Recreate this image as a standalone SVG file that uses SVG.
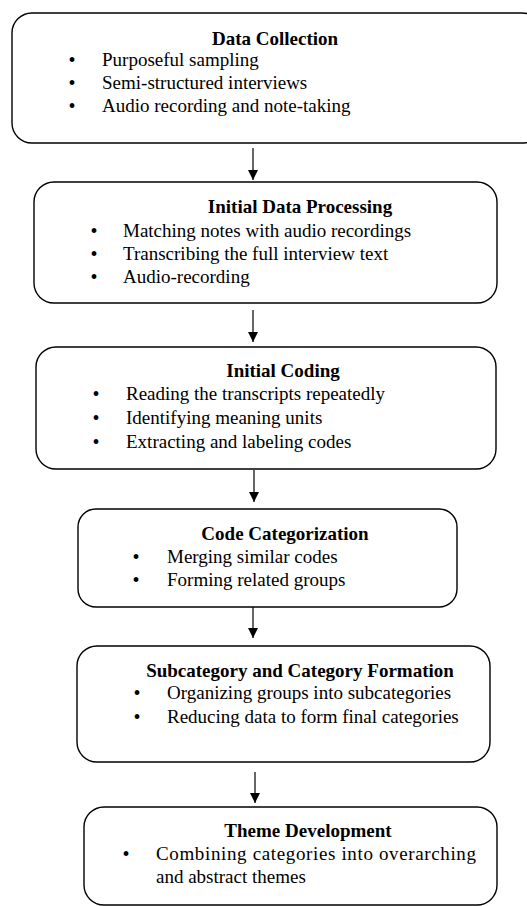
<svg xmlns="http://www.w3.org/2000/svg" width="527" height="906" viewBox="0 0 527 906">
<style>
.box{fill:#fff;stroke:#000;stroke-width:1.4}
.t{font-family:"Liberation Serif","Times New Roman",serif;font-size:19px;fill:#000}
.b{font-family:"Liberation Serif","Times New Roman",serif;font-size:20px;fill:#000;text-anchor:middle}
.h{font-weight:bold;text-anchor:middle}
.conn line{stroke:#000;stroke-width:1.2}
</style>
<defs>
<marker id="ah" viewBox="0 0 10 10" refX="10" refY="5" markerWidth="10" markerHeight="10" markerUnits="userSpaceOnUse" orient="auto">
<path d="M0,0L10,5L0,10Z" fill="#000"/>
</marker>
</defs>
<rect width="527" height="906" fill="#fff"/>
<g id="n1">
<rect class="box" x="12" y="13" width="530" height="130" rx="20"/>
<text class="t h" x="275" y="45">Data Collection</text>
<text class="b" x="72" y="67">•</text><text class="t" x="102" y="66">Purposeful sampling</text>
<text class="b" x="72" y="90">•</text><text class="t" x="102" y="89">Semi-structured interviews</text>
<text class="b" x="72" y="113">•</text><text class="t" x="102" y="112">Audio recording and note-taking</text>
</g>
<g id="n2">
<rect class="box" x="34" y="182" width="463" height="121" rx="20"/>
<text class="t h" x="300" y="213">Initial Data Processing</text>
<text class="b" x="94" y="238">•</text><text class="t" x="123" y="237">Matching notes with audio recordings</text>
<text class="b" x="94" y="261">•</text><text class="t" x="123" y="260">Transcribing the full interview text</text>
<text class="b" x="94" y="284">•</text><text class="t" x="123" y="283">Audio-recording</text>
</g>
<g id="n3">
<rect class="box" x="36" y="347" width="460" height="122" rx="20"/>
<text class="t h" x="283" y="377">Initial Coding</text>
<text class="b" x="96" y="401">•</text><text class="t" x="126" y="400">Reading the transcripts repeatedly</text>
<text class="b" x="96" y="425">•</text><text class="t" x="126" y="424">Identifying meaning units</text>
<text class="b" x="96" y="449">•</text><text class="t" x="126" y="448">Extracting and labeling codes</text>
</g>
<g id="n4">
<rect class="box" x="78" y="509" width="379" height="98" rx="18"/>
<text class="t h" x="285" y="540">Code Categorization</text>
<text class="b" x="136" y="564">•</text><text class="t" x="167" y="563">Merging similar codes</text>
<text class="b" x="136" y="587">•</text><text class="t" x="167" y="586">Forming related groups</text>
</g>
<g id="n5">
<rect class="box" x="77" y="646" width="413" height="116" rx="20"/>
<text class="t h" x="300" y="677">Subcategory and Category Formation</text>
<text class="b" x="137" y="700">•</text><text class="t" x="167" y="699">Organizing groups into subcategories</text>
<text class="b" x="137" y="724">•</text><text class="t" x="167" y="723">Reducing data to form final categories</text>
</g>
<g id="n6">
<rect class="box" x="84" y="807" width="413" height="98" rx="20"/>
<text class="t h" x="308" y="837">Theme Development</text>
<text class="b" x="126" y="861">•</text><text class="t" x="156" y="860" textLength="320" lengthAdjust="spacing">Combining categories into overarching</text>
<text class="t" x="156" y="883">and abstract themes</text>
</g>
<g id="connectors" class="conn">
<line x1="253" y1="148" x2="253" y2="180" marker-end="url(#ah)"/>
<line x1="253" y1="310" x2="253" y2="342" marker-end="url(#ah)"/>
<line x1="254" y1="470" x2="254" y2="502" marker-end="url(#ah)"/>
<line x1="253" y1="607" x2="253" y2="638" marker-end="url(#ah)"/>
<line x1="255" y1="772" x2="255" y2="803" marker-end="url(#ah)"/>
</g>
</svg>
